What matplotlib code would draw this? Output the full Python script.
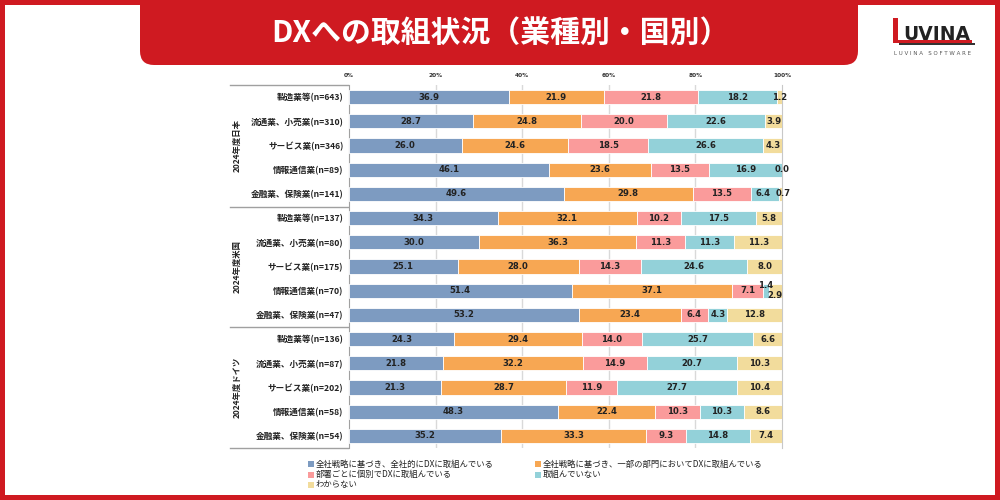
import numpy as np
import matplotlib.pyplot as plt
from matplotlib.patches import Rectangle, FancyBboxPatch

plt.rcParams['font.family'] = ['Noto Sans CJK JP', 'DejaVu Sans']

# データ
categories = ['製造業等(n=643)', '流通業、小売業(n=310)', 'サービス業(n=346)', '情報通信業(n=89)', '金融業、保険業(n=141)',
              '製造業等(n=137)', '流通業、小売業(n=80)', 'サービス業(n=175)', '情報通信業(n=70)', '金融業、保険業(n=47)',
              '製造業等(n=136)', '流通業、小売業(n=87)', 'サービス業(n=202)', '情報通信業(n=58)', '金融業、保険業(n=54)']
groups = ['2024年度日本', '2024年度米国', '2024年度ドイツ']
series_names = ['全社戦略に基づき、全社的にDXに取組んでいる',
                '全社戦略に基づき、一部の部門においてDXに取組んでいる',
                '部署ごとに個別でDXに取組んでいる',
                '取組んでいない',
                'わからない']
s1 = [36.9, 28.7, 26.0, 46.1, 49.6, 34.3, 30.0, 25.1, 51.4, 53.2, 24.3, 21.8, 21.3, 48.3, 35.2]
s2 = [21.9, 24.8, 24.6, 23.6, 29.8, 32.1, 36.3, 28.0, 37.1, 23.4, 29.4, 32.2, 28.7, 22.4, 33.3]
s3 = [21.8, 20.0, 18.5, 13.5, 13.5, 10.2, 11.3, 14.3, 7.1, 6.4, 14.0, 14.9, 11.9, 10.3, 9.3]
s4 = [18.2, 22.6, 26.6, 16.9, 6.4, 17.5, 11.3, 24.6, 1.4, 4.3, 25.7, 20.7, 27.7, 10.3, 14.8]
s5 = [1.2, 3.9, 4.3, 0.0, 0.7, 5.8, 11.3, 8.0, 2.9, 12.8, 6.6, 10.3, 10.4, 8.6, 7.4]
xticks = [0, 20, 40, 60, 80, 100]
xticklabels = ['0%', '20%', '40%', '60%', '80%', '100%']

colors = ['#7D9BC1', '#F7A753', '#FA9B9B', '#93D1D9', '#F2DC9C']
red = '#CF1A21'

W, H = 1000, 500
fig = plt.figure(figsize=(10, 5), dpi=100)
fig.patch.set_facecolor('white')

# 背景用（ピクセル座標）
bg = fig.add_axes([0, 0, 1, 1])
bg.set_xlim(0, W)
bg.set_ylim(H, 0)
bg.axis('off')

# 赤枠
bg.add_patch(Rectangle((0, 0), 5, H, color=red, lw=0))
bg.add_patch(Rectangle((995, 0), 5, H, color=red, lw=0))
bg.add_patch(Rectangle((0, 495), W, 5, color=red, lw=0))
bg.add_patch(Rectangle((0, 0), W, 5, color=red, lw=0))
# タイトルタブ
bg.add_patch(FancyBboxPatch((140, -30), 718, 95, boxstyle='round,pad=0,rounding_size=14',
                            color=red, lw=0))
bg.text(500, 33, 'DXへの取組状況（業種別・国別）', color='white', fontsize=21.5,
        fontweight='bold', ha='center', va='center')

# ロゴ
bg.add_patch(Rectangle((893, 18), 5, 25, color=red, lw=0))
bg.add_patch(Rectangle((893, 40), 79, 3, color=red, lw=0))
bg.add_patch(Rectangle((899, 43), 76, 1.8, color='#333333', lw=0))
bg.text(903, 39.5, 'UVINA', color='#222222', fontsize=13.5, fontweight='bold',
        family=['DejaVu Sans'], ha='left', va='baseline')
bg.text(933, 53.5, 'L U V I N A   S O F T W A R E', color='#555555', fontsize=4.0,
        family=['DejaVu Sans'], ha='center', va='center')

# 左側の枠線
box_c = '#A0A0A0'
for yy in [85, 207, 327, 448]:
    bg.plot([230, 348], [yy, yy], color=box_c, lw=1)

# グラフ本体
ax = fig.add_axes([349 / W, 1 - 448 / H, (782 - 349) / W, (448 - 85) / H])
y = np.arange(len(categories))
data = [s1, s2, s3, s4, s5]
left = np.zeros(len(categories))
for k, (vals, c, name) in enumerate(zip(data, colors, series_names)):
    vals = np.array(vals)
    ax.barh(y, vals, left=left, height=0.58, color=c, edgecolor='white', lw=0.6,
            label=name, zorder=3)
    for i, (l, v) in enumerate(zip(left, vals)):
        dx, dy = 0, 0
        if i == 8 and k == 3:
            dy = -0.22
        if i == 8 and k == 4:
            dy = 0.18
        if i == 4 and k == 3:
            dx = -0.5
        if i == 4 and k == 4:
            dx = 0.6
        ax.text(l + v / 2 + dx, i + dy, f'{v:.1f}', ha='center', va='center',
                fontsize=6.1, fontweight='bold', color='#222222', zorder=4,
                family=['DejaVu Sans'])
    left += vals

ax.set_xlim(0, 100)
ax.set_ylim(len(categories) - 0.5, -0.5)
ax.set_xticks(xticks)
ax.set_xticklabels(xticklabels, fontsize=4.2, fontweight='bold', color='#333333',
                   family=['DejaVu Sans'])
ax.xaxis.tick_top()
ax.tick_params(axis='x', length=0, pad=5)
ax.set_yticks(y)
ax.set_yticklabels(categories, fontsize=6.2, fontweight='bold', color='#222222')
ax.tick_params(axis='y', length=0, pad=4)
for xv in xticks[1:-1]:
    ax.axvline(xv, color='#D9D9D9', lw=1, zorder=1)
for s in ['top', 'bottom']:
    ax.spines[s].set_visible(False)
ax.spines['left'].set_color(box_c)
ax.spines['right'].set_color('#C8C8C8')

# グループラベル
for g, name in enumerate(groups):
    yc = 85 + (448 - 85) * (g * 5 + 2.5) / 15
    bg.text(237, yc, name, rotation=90, ha='center', va='center', fontsize=6,
            fontweight='bold', color='#222222')

# 凡例
leg_pos = [(308, 464), (535, 464), (308, 474.5), (535, 474.5), (308, 485)]
for (lx, ly), c, name in zip(leg_pos, colors, series_names):
    bg.add_patch(Rectangle((lx, ly - 3), 6, 6, color=c, lw=0))
    bg.text(lx + 8, ly, name, ha='left', va='center', fontsize=6, color='#222222')

fig.savefig('out.png', dpi=100)
